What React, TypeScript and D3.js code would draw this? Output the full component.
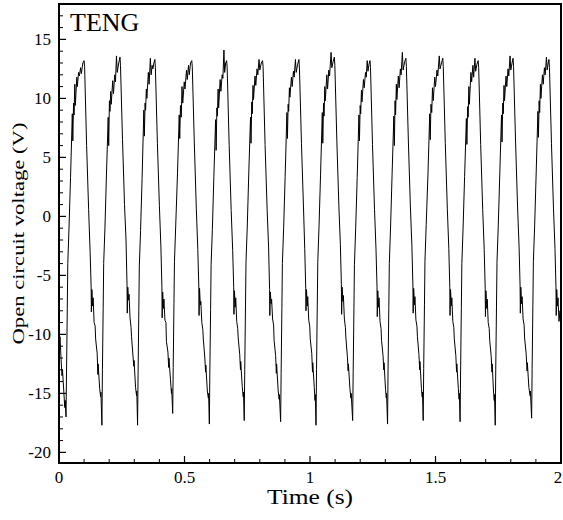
import React from "react";
import * as d3 from "d3";

type P = [number, number];

// Open circuit voltage (V) vs time (s)
const start: P[] = [[0, -9.5], [0.002, -10.8], [0.004, -10.2], [0.008, -12.0], [0.012, -13.5], [0.014, -13.0], [0.019, -14.8], [0.023, -16.2], [0.025, -15.6], [0.028, -17.0]];
const cycle1: P[] = [[0.030, -13.2], [0.033, -7.8], [0.035, -4.0], [0.040, -0.9], [0.046, 3.3], [0.053, 8.7], [0.055, 6.4], [0.058, 9.6], [0.060, 8.6], [0.063, 11.2], [0.065, 9.4], [0.071, 11.8], [0.073, 11.0], [0.078, 12.2], [0.081, 11.9], [0.086, 12.6], [0.089, 12.1], [0.095, 13.0], [0.100, 13.2],
  [0.102, 12.7], [0.110, 6.0], [0.118, 0.6], [0.124, -3.0], [0.128, -6.0], [0.129, -8.1], [0.131, -6.2], [0.134, -7.6], [0.136, -6.9], [0.140, -9.0], [0.144, -9.3], [0.146, -10.4], [0.152, -11.6], [0.155, -13.4], [0.156, -12.5], [0.162, -14.6], [0.166, -15.3], [0.167, -14.9], [0.171, -17.7]];
const cycle2: P[] = [[0.173, -13.0], [0.176, -7.7], [0.178, -4.0], [0.183, -1.0], [0.189, 3.5], [0.196, 8.4], [0.198, 6.0], [0.201, 9.8], [0.203, 8.9], [0.206, 10.6], [0.208, 9.5], [0.214, 11.5], [0.217, 10.4], [0.222, 12.0], [0.225, 11.4], [0.229, 13.6], [0.232, 12.2], [0.238, 13.0], [0.243, 13.5],
  [0.245, 12.8], [0.253, 6.5], [0.261, 1.0], [0.267, -2.0], [0.271, -5.8], [0.272, -8.2], [0.274, -6.0], [0.277, -7.1], [0.279, -6.6], [0.283, -8.6], [0.287, -9.4], [0.289, -10.2], [0.295, -11.9], [0.298, -12.7], [0.299, -12.2], [0.305, -14.5], [0.309, -15.2], [0.310, -14.8], [0.313, -17.7]];
const cycle3: P[] = [[0.315, -13.4], [0.318, -8.0], [0.320, -4.2], [0.325, -1.2], [0.331, 3.2], [0.338, 9.0], [0.340, 6.8], [0.343, 9.6], [0.345, 9.0], [0.348, 10.8], [0.350, 10.0], [0.356, 12.2], [0.359, 11.2], [0.364, 13.4], [0.367, 12.0], [0.371, 12.8], [0.374, 12.5], [0.378, 13.0], [0.382, 13.3],
  [0.384, 12.6], [0.392, 6.2], [0.400, 0.9], [0.406, -2.6], [0.410, -6.0], [0.411, -8.6], [0.413, -6.4], [0.416, -7.8], [0.418, -7.0], [0.422, -8.8], [0.426, -9.0], [0.428, -10.6], [0.434, -11.5], [0.437, -12.8], [0.438, -12.0], [0.444, -13.8], [0.448, -15.0], [0.449, -14.6], [0.453, -16.7]];
const cycle4: P[] = [[0.455, -12.8], [0.458, -7.4], [0.460, -3.8], [0.465, -0.8], [0.472, 3.6], [0.479, 8.6], [0.481, 6.6], [0.484, 9.4], [0.487, 8.4], [0.490, 11.0], [0.493, 9.6], [0.499, 11.4], [0.502, 10.8], [0.508, 12.4], [0.511, 11.6], [0.516, 12.8], [0.519, 12.0], [0.524, 13.0], [0.529, 13.2],
  [0.531, 12.7], [0.539, 6.3], [0.547, 0.7], [0.553, -2.8], [0.557, -5.9], [0.558, -8.4], [0.560, -6.1], [0.563, -7.5], [0.565, -7.2], [0.569, -9.0], [0.573, -9.6], [0.575, -10.4], [0.581, -12.0], [0.584, -13.2], [0.585, -12.6], [0.591, -14.8], [0.595, -15.4], [0.596, -15.0], [0.599, -17.6]];
const cycle5: P[] = [[0.601, -13.1], [0.604, -7.9], [0.606, -4.1], [0.611, -1.1], [0.617, 3.4], [0.624, 8.2], [0.626, 5.6], [0.629, 9.2], [0.631, 8.5], [0.634, 10.8], [0.636, 9.2], [0.642, 11.6], [0.645, 10.6], [0.650, 12.0], [0.653, 11.7], [0.657, 14.1], [0.660, 12.2], [0.664, 13.0], [0.668, 13.2],
  [0.670, 12.6], [0.678, 6.0], [0.686, 0.5], [0.692, -2.9], [0.696, -6.0], [0.697, -8.3], [0.699, -6.3], [0.702, -7.7], [0.704, -6.9], [0.708, -8.9], [0.712, -9.5], [0.714, -10.3], [0.720, -11.7], [0.723, -13.0], [0.724, -12.3], [0.730, -14.4], [0.734, -15.3], [0.735, -14.9], [0.738, -17.3]];
const cycle6: P[] = [[0.740, -13.0], [0.743, -7.6], [0.745, -3.9], [0.750, -0.9], [0.756, 3.6], [0.763, 8.4], [0.765, 6.2], [0.768, 9.7], [0.770, 8.7], [0.773, 11.1], [0.775, 9.9], [0.781, 11.9], [0.784, 11.1], [0.789, 12.5], [0.792, 12.0], [0.797, 13.3], [0.800, 12.4], [0.806, 13.0], [0.811, 13.2],
  [0.813, 12.7], [0.821, 6.1], [0.829, 0.7], [0.835, -2.6], [0.839, -6.2], [0.840, -8.4], [0.842, -6.4], [0.845, -7.4], [0.847, -7.0], [0.851, -8.7], [0.855, -9.2], [0.857, -10.5], [0.863, -11.8], [0.866, -13.3], [0.867, -12.5], [0.873, -14.7], [0.877, -15.5], [0.878, -15.1], [0.883, -17.4]];
const cycle7: P[] = [[0.885, -13.3], [0.888, -7.8], [0.890, -4.0], [0.895, -1.0], [0.901, 3.4], [0.908, 8.8], [0.910, 6.6], [0.913, 9.5], [0.915, 8.9], [0.918, 10.9], [0.920, 10.1], [0.926, 11.8], [0.929, 11.0], [0.934, 12.3], [0.937, 11.8], [0.942, 13.3], [0.945, 12.2], [0.951, 12.9], [0.956, 13.3],
  [0.958, 12.5], [0.966, 6.2], [0.974, 0.8], [0.979, -2.7], [0.983, -6.1], [0.984, -8.0], [0.986, -6.2], [0.989, -7.6], [0.991, -6.8], [0.995, -8.8], [0.999, -9.3], [1.001, -10.4], [1.007, -11.6], [1.010, -13.2], [1.011, -12.4], [1.017, -14.5], [1.020, -15.6], [1.021, -15.1], [1.024, -17.7]];
const cycle8: P[] = [[1.026, -13.0], [1.029, -7.6], [1.031, -3.9], [1.036, -0.8], [1.042, 3.5], [1.049, 8.8], [1.051, 6.2], [1.054, 9.6], [1.056, 8.5], [1.059, 11.0], [1.061, 9.8], [1.067, 12.0], [1.070, 10.8], [1.075, 12.4], [1.078, 11.9], [1.084, 13.9], [1.087, 12.6], [1.092, 13.1], [1.097, 13.5],
  [1.099, 12.8], [1.107, 6.4], [1.115, 0.9], [1.121, -2.4], [1.125, -5.8], [1.126, -8.3], [1.128, -6.0], [1.131, -7.2], [1.133, -6.7], [1.137, -8.7], [1.141, -9.4], [1.143, -10.3], [1.149, -11.9], [1.152, -13.1], [1.153, -12.5], [1.159, -14.6], [1.163, -15.4], [1.164, -15.0], [1.170, -17.3]];
const cycle9: P[] = [[1.172, -13.2], [1.175, -7.8], [1.177, -4.1], [1.182, -1.0], [1.188, 3.3], [1.195, 8.6], [1.197, 6.4], [1.200, 9.4], [1.202, 8.7], [1.205, 10.7], [1.207, 9.7], [1.213, 11.6], [1.216, 10.9], [1.221, 12.2], [1.224, 11.8], [1.228, 13.2], [1.231, 12.3], [1.235, 12.9], [1.239, 13.2],
  [1.241, 12.6], [1.249, 6.1], [1.257, 0.6], [1.263, -2.8], [1.267, -6.0], [1.268, -8.5], [1.270, -6.3], [1.273, -7.7], [1.275, -6.9], [1.279, -8.9], [1.283, -9.5], [1.285, -10.5], [1.291, -11.8], [1.294, -13.0], [1.295, -12.4], [1.301, -14.7], [1.304, -15.4], [1.305, -15.0], [1.309, -17.6]];
const cycle10: P[] = [[1.311, -13.0], [1.314, -7.7], [1.316, -4.0], [1.321, -0.9], [1.327, 3.5], [1.334, 8.5], [1.336, 6.0], [1.339, 9.8], [1.341, 8.6], [1.344, 11.2], [1.346, 9.9], [1.352, 11.9], [1.355, 10.9], [1.360, 12.5], [1.363, 12.0], [1.368, 13.9], [1.371, 12.4], [1.377, 13.1], [1.382, 13.4],
  [1.384, 12.7], [1.392, 6.3], [1.400, 0.8], [1.406, -2.5], [1.410, -5.9], [1.411, -8.2], [1.413, -6.1], [1.416, -7.5], [1.418, -6.8], [1.422, -8.8], [1.426, -9.3], [1.428, -10.2], [1.434, -11.7], [1.437, -13.0], [1.438, -12.3], [1.444, -14.6], [1.447, -15.3], [1.448, -14.9], [1.451, -17.3]];
const cycle11: P[] = [[1.453, -12.9], [1.456, -7.5], [1.458, -3.8], [1.463, -0.7], [1.470, 3.6], [1.477, 8.7], [1.479, 6.5], [1.482, 9.5], [1.485, 8.8], [1.488, 10.9], [1.491, 9.8], [1.497, 11.8], [1.500, 11.0], [1.506, 12.4], [1.509, 11.9], [1.515, 13.6], [1.518, 12.5], [1.524, 13.0], [1.529, 13.4],
  [1.531, 12.7], [1.539, 6.2], [1.547, 0.7], [1.553, -2.7], [1.557, -6.0], [1.558, -8.4], [1.560, -6.2], [1.563, -7.6], [1.565, -6.9], [1.569, -8.9], [1.573, -9.4], [1.575, -10.4], [1.581, -11.8], [1.584, -13.2], [1.585, -12.5], [1.591, -14.6], [1.594, -15.5], [1.595, -15.0], [1.598, -17.4]];
const cycle12: P[] = [[1.600, -13.1], [1.603, -7.7], [1.605, -4.0], [1.610, -0.9], [1.616, 3.4], [1.623, 8.3], [1.625, 6.1], [1.628, 9.3], [1.630, 8.4], [1.633, 11.0], [1.635, 9.5], [1.641, 12.2], [1.644, 11.4], [1.649, 12.8], [1.652, 11.8], [1.657, 13.4], [1.660, 12.3], [1.665, 12.9], [1.670, 13.2],
  [1.672, 12.6], [1.680, 6.1], [1.688, 0.6], [1.694, -2.8], [1.698, -6.1], [1.699, -8.5], [1.701, -6.3], [1.704, -7.8], [1.706, -7.0], [1.710, -9.0], [1.714, -9.5], [1.716, -10.5], [1.722, -11.9], [1.725, -13.2], [1.726, -12.5], [1.731, -14.8], [1.734, -15.6], [1.735, -15.1], [1.738, -17.7]];
const cycle13: P[] = [[1.740, -13.0], [1.743, -7.6], [1.745, -3.9], [1.750, -0.8], [1.756, 3.5], [1.763, 8.6], [1.765, 6.3], [1.768, 9.6], [1.770, 8.7], [1.773, 11.1], [1.775, 9.8], [1.781, 11.9], [1.784, 11.0], [1.789, 12.5], [1.792, 11.9], [1.797, 13.6], [1.800, 12.4], [1.805, 13.0], [1.809, 13.4],
  [1.811, 12.7], [1.819, 6.3], [1.827, 0.8], [1.833, -2.6], [1.837, -5.9], [1.838, -8.2], [1.840, -6.0], [1.843, -7.4], [1.845, -6.8], [1.849, -8.7], [1.853, -9.2], [1.855, -10.3], [1.861, -11.6], [1.865, -13.1], [1.866, -12.4], [1.872, -14.5], [1.877, -15.2], [1.878, -14.8], [1.883, -17.1]];
const cycle14: P[] = [[1.885, -12.9], [1.888, -7.5], [1.890, -3.8], [1.895, -0.8], [1.901, 3.6], [1.908, 8.9], [1.910, 6.7], [1.913, 9.8], [1.915, 8.8], [1.918, 11.2], [1.920, 10.0], [1.926, 12.0], [1.929, 11.2], [1.934, 12.6], [1.937, 12.0], [1.942, 13.5], [1.945, 12.4], [1.949, 13.0], [1.952, 13.3],
  [1.954, 12.6], [1.962, 6.2], [1.970, 0.7], [1.976, -2.7], [1.980, -6.0], [1.981, -8.4], [1.983, -6.2], [1.986, -7.6], [1.988, -6.9], [1.992, -8.9], [1.996, -8.0], [2.000, -8.6]];

const series: P[] = [start, cycle1, cycle2, cycle3, cycle4, cycle5, cycle6, cycle7, cycle8, cycle9, cycle10, cycle11, cycle12, cycle13, cycle14].flat();

const xMajor = [0, 0.5, 1, 1.5, 2];
const xMajorLabels = ["0", "0.5", "1", "1.5", "2"];
const xMinor = [0.1, 0.2, 0.3, 0.4, 0.6, 0.7, 0.8, 0.9, 1.1, 1.2, 1.3, 1.4, 1.6, 1.7, 1.8, 1.9];
const yMajor = [-20, -15, -10, -5, 0, 5, 10, 15];
const yMajorLabels = ["-20", "-15", "-10", "-5", "0", "5", "10", "15"];
const yMinorRange = [-20, 17];

const W = 563, H = 520;
const L = 59, R = 561, T = 4, B = 463;

export default function App() {
  const x = d3.scaleLinear().domain([0, 2]).range([L, R]);
  const y = d3.scaleLinear().domain([-20.9, 18]).range([B, T]);
  const line = d3.line<P>().x(d => x(d[0])).y(d => y(d[1]));
  const yMinor = d3.range(yMinorRange[0], yMinorRange[1] + 1, 1).filter(v => v % 5 !== 0);
  const font = "'Liberation Serif', 'Times New Roman', serif";
  return (
    <svg width={W} height={H} style={{ position: "absolute", left: 0, top: 0, background: "#fff" }} fontFamily={font}>
      <defs>
        <clipPath id="plotclip"><rect x={L} y={T} width={R - L} height={B - T} /></clipPath>
      </defs>
      <path d={line(series) || ""} fill="none" stroke="#000" strokeWidth={1} clipPath="url(#plotclip)" />
      {xMinor.map(v => <line key={"xm" + v} x1={x(v)} x2={x(v)} y1={B} y2={B - 4} stroke="#000" strokeWidth={1} />)}
      {xMajor.map(v => <line key={"xM" + v} x1={x(v)} x2={x(v)} y1={B} y2={B - 7} stroke="#000" strokeWidth={1.2} />)}
      {yMinor.map(v => <line key={"ym" + v} x1={L} x2={L + 4} y1={y(v)} y2={y(v)} stroke="#000" strokeWidth={1} />)}
      {yMajor.map(v => <line key={"yM" + v} x1={L} x2={L + 7} y1={y(v)} y2={y(v)} stroke="#000" strokeWidth={1.2} />)}
      <rect x={L} y={T} width={R - L} height={B - T} fill="none" stroke="#000" strokeWidth={2} />
      {xMajor.map((v, i) => (
        <text key={"xl" + v} x={i === xMajor.length - 1 ? x(v) - 3 : x(v)} y={483} textAnchor="middle" fontSize={17} fill="#000">{xMajorLabels[i]}</text>
      ))}
      {yMajor.map((v, i) => (
        <text key={"yl" + v} x={51} y={y(v)} dy="0.35em" textAnchor="end" fontSize={17} fill="#000">{yMajorLabels[i]}</text>
      ))}
      <text x={(L + R) / 2} y={504} textAnchor="middle" fontSize={20} textLength={86} lengthAdjust="spacingAndGlyphs" fill="#000">Time (s)</text>
      <text transform={`translate(24,${(T + B) / 2}) rotate(-90)`} textAnchor="middle" fontSize={17} textLength={222} lengthAdjust="spacingAndGlyphs" fill="#000">Open circuit voltage (V)</text>
      <text x={70} y={31} fontSize={26} fill="#000">TENG</text>
    </svg>
  );
}
